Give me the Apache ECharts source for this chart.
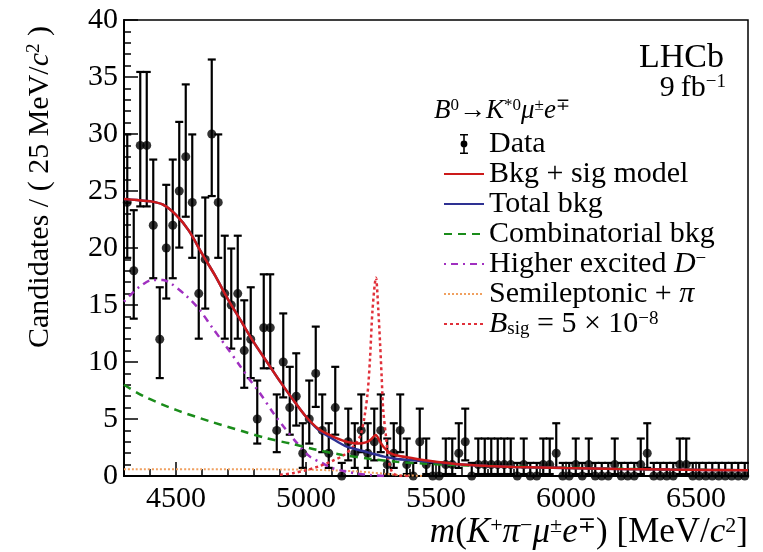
<!DOCTYPE html>
<html>
<head>
<meta charset="utf-8">
<script src="https://cdn.jsdelivr.net/npm/echarts@6/dist/echarts.min.js"></script>
<style>
html, body { margin: 0; padding: 0; background: #fff; }
#chart { width: 763px; height: 552px; }
</style>
</head>
<body>
<div id="chart"></div>
<script>
// binning of the histogram
var binStart = 4300;
var binWidth = 25;

// candidates per 25 MeV bin
var counts = [24, 18, 29, 29, 22, 12, 20, 22, 25, 28,
              24, 16, 19, 30, 24, 16, 15, 16, 11, 12,
              5, 13, 13, 4, 10, 6, 7, 2, 5, 9,
              4, 2, 6, 0, 3, 2, 4, 2, 3, 4,
              1, 2, 4, 1, 0, 3, 1, 0, 0, 1,
              1, 2, 3, 0, 1, 1, 1, 1, 1, 1,
              0, 1, 0, 0, 1, 1, 2, 0, 0, 1,
              0, 1, 0, 0, 0, 1, 0, 0, 0, 1,
              2, 0, 0, 0, 0, 1, 1, 0, 0, 0,
              0, 0, 0, 0, 0, 0];

// fit curves (mass, value)
var modelMass = [4300, 4350, 4400, 4450, 4500, 4550, 4600, 4650, 4700, 4750, 4800, 4850, 4900, 4950, 5000, 5050, 5100, 5150, 5200, 5230, 5250, 5268, 5285, 5300, 5325, 5350, 5400, 5450, 5500, 5600, 5700, 5800, 6000, 6200, 6400, 6700];
var modelVal  = [24.3, 24.2, 24.1, 23.8, 22.9, 21.5, 19.5, 17.6, 15.5, 13.6, 11.7, 10.0, 8.3, 6.7, 5.2, 4.1, 3.5, 3.05, 2.85, 2.95, 3.2, 3.6, 3.0, 2.5, 2.0, 1.8, 1.6, 1.4, 1.25, 1.0, 0.88, 0.8, 0.7, 0.62, 0.56, 0.5];

var bkgMass = [4300, 4350, 4400, 4450, 4500, 4550, 4600, 4650, 4700, 4750, 4800, 4850, 4900, 4950, 5000, 5050, 5100, 5150, 5200, 5250, 5300, 5350, 5400, 5450, 5500, 5600, 5700, 5800, 6000, 6200, 6400, 6700];
var bkgVal  = [24.3, 24.2, 24.1, 23.8, 22.9, 21.5, 19.5, 17.6, 15.5, 13.6, 11.7, 10.0, 8.3, 6.7, 5.2, 4.0, 3.3, 2.65, 2.3, 2.0, 1.7, 1.5, 1.4, 1.3, 1.2, 1.0, 0.88, 0.8, 0.7, 0.62, 0.56, 0.5];

var combMass = [4300, 4375, 4500, 4630, 4760, 4850, 4940, 5040, 5140, 5250, 5350, 5450, 5550, 5700, 5900, 6100, 6300, 6500, 6700];
var combVal  = [8.0, 7.0, 5.8, 4.8, 3.9, 3.3, 2.85, 2.3, 1.85, 1.5, 1.25, 1.1, 0.98, 0.88, 0.76, 0.68, 0.6, 0.55, 0.5];

var excMass = [4300, 4330, 4360, 4410, 4450, 4480, 4540, 4590, 4640, 4695, 4745, 4785, 4825, 4875, 4915, 4965, 5015, 5065, 5100, 5155, 5200, 5250, 5300];
var excVal  = [15.3, 16.0, 16.6, 17.2, 17.2, 16.9, 15.8, 14.6, 13.0, 11.3, 9.7, 8.4, 7.2, 5.5, 4.3, 2.9, 1.7, 1.1, 0.7, 0.38, 0.2, 0.08, 0];

var semiMass = [4300, 4600, 4900, 5000, 5100, 5200, 5250, 5300, 5350, 5400, 5450];
var semiVal  = [0.6, 0.6, 0.58, 0.55, 0.5, 0.4, 0.3, 0.2, 0.1, 0.05, 0];

var sigMass = [4900, 4950, 5000, 5050, 5100, 5150, 5190, 5210, 5225, 5237, 5246, 5256, 5269, 5278, 5285, 5291, 5297, 5308, 5317, 5330, 5345, 5370, 5400];
var sigVal  = [0.1, 0.25, 0.5, 0.85, 1.3, 1.9, 2.8, 3.6, 5.2, 7.3, 10.2, 14.6, 17.4, 14.6, 11.6, 8.7, 5.8, 3.4, 1.5, 0.4, 0.1, 0, 0];

var xLabels = [4500, 5000, 5500, 6000, 6500];

var serif = "'Liberation Serif', 'DejaVu Serif', serif";

function pairs(xs, ys) {
    var res = [];
    for (var i = 0; i < xs.length; i++) res.push([xs[i], ys[i]]);
    return res;
}

// approximate 68% poisson interval, like RooFit draws it
function poisson(n) {
    if (n === 0) return [0, 1.148];
    var lo = n * Math.pow(1 - 1 / (9 * n) - 1 / (3 * Math.sqrt(n)), 3);
    var m = n + 1;
    var hi = m * Math.pow(1 - 1 / (9 * m) + 1 / (3 * Math.sqrt(m)), 3);
    return [lo, hi];
}

var points = [], bars = [];
for (var i = 0; i < counts.length; i++) {
    var c = binStart + binWidth * (i + 0.5);
    var e = poisson(counts[i]);
    points.push([c, counts[i]]);
    bars.push([c, e[0], e[1]]);
}

function richSet(size) {
    var s = Math.round(size * 0.63);
    return {
        i: { fontFamily: serif, fontStyle: 'italic', fontSize: size },
        sup: { fontFamily: serif, fontSize: s, verticalAlign: 'top', lineHeight: Math.round(size * 0.53) },
        sub: { fontFamily: serif, fontSize: s, verticalAlign: 'bottom', lineHeight: Math.round(size * 0.47) }
    };
}

var legendText = {
    'Data': 'Data',
    'Bkg + sig model': 'Bkg + sig model',
    'Total bkg': 'Total bkg',
    'Combinatorial bkg': 'Combinatorial bkg',
    'Higher excited D': 'Higher excited {i|D}{sup|\u2212}',
    'Semileptonic + pi': 'Semileptonic + {i|\u03c0}',
    'Bsig': '{i|B}{sub|sig} = 5 \u00d7 10{sup|\u22128}'
};

var myChart = echarts.init(document.getElementById('chart'));

var option = {
    animation: false,
    backgroundColor: '#fff',
    grid: {
        left: 124, right: 15, top: 20, bottom: 76,
        show: true, borderColor: '#000', borderWidth: 1.5
    },
    xAxis: [{
        type: 'value', min: 4300, max: 6700, interval: 100,
        axisLine: { lineStyle: { color: '#000', width: 2 } },
        axisTick: { inside: true, length: 7, lineStyle: { color: '#000', width: 1.5 } },
        axisLabel: {
            color: '#000', fontFamily: serif, fontSize: 30, margin: 8,
            formatter: function (v) { return xLabels.indexOf(v) >= 0 ? String(v) : ''; }
        },
        splitLine: { show: false }
    }, {
        type: 'value', min: 4300, max: 6700, position: 'bottom',
        axisLine: { show: false },
        axisTick: { show: true, inside: true, length: 14, customValues: xLabels, lineStyle: { color: '#000', width: 1.5 } },
        axisLabel: { show: false },
        splitLine: { show: false }
    }],
    yAxis: {
        type: 'value', min: 0, max: 40, interval: 5,
        axisLine: { show: true, lineStyle: { color: '#000', width: 2 } },
        axisTick: { show: true, inside: true, length: 14, lineStyle: { color: '#000', width: 1.5 } },
        minorTick: { show: true, splitNumber: 5, length: 7, lineStyle: { color: '#000', width: 1.5 } },
        axisLabel: { color: '#000', fontFamily: serif, fontSize: 30, margin: 6 },
        splitLine: { show: false }
    },
    legend: {
        orient: 'vertical', left: 438, top: 124,
        itemWidth: 40, itemHeight: 20, itemGap: 0,
        selectedMode: false,
        itemStyle: { opacity: 0 },
        textStyle: { color: '#000', fontFamily: serif, fontSize: 30, lineHeight: 29.5, rich: richSet(30) },
        formatter: function (name) { return legendText[name]; },
        data: [
            {
                name: 'Data',
                icon: 'path://M1 0H9V1.6H1Z M4.2 0H5.8V20H4.2Z M1 18.4H9V20H1Z M1.6 10A3.4 3.4 0 1 1 8.4 10A3.4 3.4 0 1 1 1.6 10Z',
                itemStyle: { opacity: 1, color: '#000' }
            },
            'Bkg + sig model', 'Total bkg', 'Combinatorial bkg', 'Higher excited D', 'Semileptonic + pi', 'Bsig'
        ]
    },
    graphic: [
        {
            type: 'text', x: 40, y: 187, rotation: Math.PI / 2,
            style: {
                text: 'Candidates / ( 25 MeV/{i|c}{sup|2} )',
                fontFamily: serif, fontSize: 30, fill: '#000', lineHeight: 30,
                align: 'center', verticalAlign: 'middle', rich: richSet(30)
            }
        },
        {
            type: 'text', x: 748, y: 533,
            style: {
                text: '{i|m}(' + '{i|K}{sup|+}{i|\u03c0}{sup|\u2212}{i|\u03bc}{sup|\u00b1}{i|e}{sup|\u2213}) [MeV/{i|c}{sup|2}]',
                fontFamily: serif, fontSize: 35, fill: '#000', lineHeight: 35,
                align: 'right', verticalAlign: 'middle', rich: richSet(35)
            }
        },
        {
            type: 'text', x: 724, y: 58,
            style: { text: 'LHCb', fontFamily: serif, fontSize: 34, fill: '#000', align: 'right', verticalAlign: 'middle' }
        },
        {
            type: 'text', x: 726, y: 88,
            style: {
                text: '9\u2009fb{sup|\u22121}', fontFamily: serif, fontSize: 30, fill: '#000', lineHeight: 30,
                align: 'right', verticalAlign: 'middle', rich: richSet(30)
            }
        },
        {
            type: 'text', x: 434, y: 111,
            style: {
                text: '{i|B}{sup|0}\u2192{i|K}{sup|*0}{i|\u03bc}{sup|\u00b1}{i|e}{sup|\u2213}',
                fontFamily: serif, fontSize: 27, fill: '#000', lineHeight: 27,
                align: 'left', verticalAlign: 'middle', rich: richSet(27)
            }
        }
    ],
    series: [
        {
            name: 'errors', type: 'custom', z: 2,
            renderItem: function (params, api) {
                var x = api.value(0);
                var top = api.coord([x, api.value(2)]);
                var bot = api.coord([x, api.value(1)]);
                var h = 4;
                var st = { stroke: '#000', lineWidth: 2.2 };
                return {
                    type: 'group', children: [
                        { type: 'line', shape: { x1: top[0], y1: top[1], x2: bot[0], y2: bot[1] }, style: st },
                        { type: 'line', shape: { x1: top[0] - h, y1: top[1], x2: top[0] + h, y2: top[1] }, style: st },
                        { type: 'line', shape: { x1: bot[0] - h, y1: bot[1], x2: bot[0] + h, y2: bot[1] }, style: st }
                    ]
                };
            },
            encode: { x: 0, y: [1, 2] },
            data: bars
        },
        {
            name: 'Data', type: 'scatter', z: 3,
            symbolSize: 9, itemStyle: { color: '#000' },
            data: points
        },
        {
            name: 'Semileptonic + pi', type: 'line', z: 4, symbol: 'none', smooth: 0.3,
            lineStyle: { color: '#f0a060', width: 2, type: [2, 2] },
            itemStyle: { color: '#f0a060' },
            data: pairs(semiMass, semiVal)
        },
        {
            name: 'Higher excited D', type: 'line', z: 4, symbol: 'none', smooth: 0.3,
            lineStyle: { color: '#a030c0', width: 2.5, type: [2, 5, 7, 5] },
            itemStyle: { color: '#a030c0' },
            data: pairs(excMass, excVal)
        },
        {
            name: 'Combinatorial bkg', type: 'line', z: 4, symbol: 'none', smooth: 0.3,
            lineStyle: { color: '#1a8c1a', width: 2.5, type: [8, 6] },
            itemStyle: { color: '#1a8c1a' },
            data: pairs(combMass, combVal)
        },
        {
            name: 'Bsig', type: 'line', z: 4, symbol: 'none', smooth: 0.3,
            lineStyle: { color: '#e0303a', width: 2.5, type: [3, 3] },
            itemStyle: { color: '#e0303a' },
            data: pairs(sigMass, sigVal)
        },
        {
            name: 'Total bkg', type: 'line', z: 5, symbol: 'none', smooth: 0.3,
            lineStyle: { color: '#2e3192', width: 2.5 },
            itemStyle: { color: '#2e3192' },
            data: pairs(bkgMass, bkgVal)
        },
        {
            name: 'Bkg + sig model', type: 'line', z: 6, symbol: 'none', smooth: 0.3,
            lineStyle: { color: '#cc1a1a', width: 2.5 },
            itemStyle: { color: '#cc1a1a' },
            data: pairs(modelMass, modelVal)
        }
    ]
};

myChart.setOption(option);
window.addEventListener('resize', function () {
    myChart.resize();
});
</script>
</body>
</html>
